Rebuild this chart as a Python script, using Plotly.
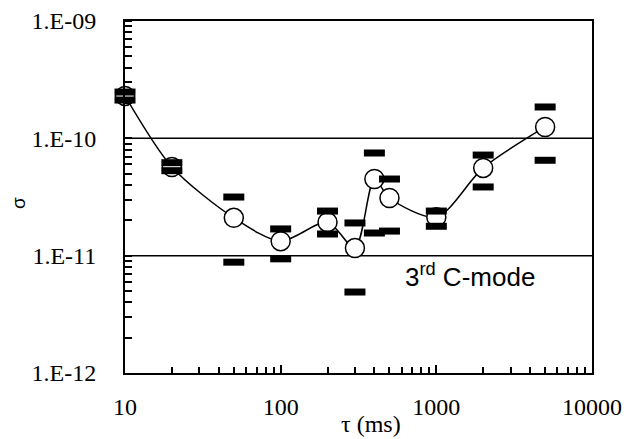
import plotly.graph_objects as go

tau = [10, 20, 50, 100, 200, 300, 400, 500, 1000, 2000, 5000]
sigma = [2.3e-10, 5.7e-11, 2.1e-11, 1.33e-11, 1.93e-11, 1.16e-11, 4.5e-11, 3.1e-11, 2.13e-11, 5.6e-11, 1.25e-10]
upper = [2.48e-10, 6.2e-11, 3.16e-11, 1.69e-11, 2.4e-11, 1.9e-11, 7.5e-11, 4.5e-11, 2.4e-11, 7.2e-11, 1.85e-10]
lower = [2.12e-10, 5.3e-11, 8.8e-12, 9.4e-12, 1.53e-11, 4.9e-12, 1.56e-11, 1.62e-11, 1.78e-11, 3.85e-11, 6.5e-11]
ref_lines = [1e-10, 1e-11]
y_ticks = [1e-12, 1e-11, 1e-10, 1e-9]
y_ticktext = ["1.E-12", "1.E-11", "1.E-10", "1.E-09"]
x_ticks = [10, 100, 1000, 10000]
x_ticktext = ["10", "100", "1000", "10000"]

minor_x = [m * 10**e for e in (1, 2, 3) for m in range(2, 10)]
minor_y = [m * 10.0**e for e in (-12, -11, -10) for m in range(2, 11)]

serif = "Liberation Serif, Times New Roman"
sans = "Liberation Sans, Arial"

L, R, T, B, W, H = 125, 32, 21, 66, 624, 439
pw, ph = W - L - R, H - T - B

fig = go.Figure()
for yv in ref_lines:
    fig.add_shape(type="line", xref="paper", x0=0, x1=1, yref="y", y0=yv, y1=yv,
                  line=dict(color="black", width=1.5), layer="below")

fig.add_trace(go.Scatter(x=tau, y=sigma, mode="lines+markers", cliponaxis=False,
                         line=dict(color="black", width=1.5, shape="spline", smoothing=0.8),
                         marker=dict(symbol="circle", size=19, color="white",
                                     line=dict(color="black", width=1.5)),
                         showlegend=False))
for arr in (upper, lower):
    fig.add_trace(go.Scatter(x=tau, y=arr, mode="markers", cliponaxis=False,
                             marker=dict(symbol="line-ew", size=15,
                                         line=dict(color="black", width=7)),
                             showlegend=False))

fig.add_annotation(x=3.216, y=-11.17, xref="x", yref="y", text="3<sup>rd</sup> C-mode",
                   showarrow=False, font=dict(family=sans, size=26, color="black"))
fig.add_annotation(xref="paper", yref="paper", x=(371 - L) / pw, y=-(424 - (H - B)) / ph,
                   yanchor="middle", text="τ (ms)", showarrow=False,
                   font=dict(family=serif, size=24, color="black"))
fig.add_annotation(xref="paper", yref="paper", x=-(L - 18) / pw, y=1 - (203 - T) / ph,
                   xanchor="center", yanchor="middle", textangle=-90, text="σ", showarrow=False,
                   font=dict(family=sans, size=19, color="black"))

fig.update_layout(
    width=W, height=H,
    margin=dict(l=L, r=R, t=T, b=B),
    plot_bgcolor="white", paper_bgcolor="white",
    xaxis=dict(type="log", range=[1, 4], showgrid=False, zeroline=False, automargin=False,
               showline=True, linecolor="black", linewidth=2, mirror=True,
               tickvals=x_ticks, ticktext=x_ticktext, ticks="inside", ticklen=8,
               tickwidth=1.5, tickcolor="black", ticklabelstandoff=11,
               tickfont=dict(family=serif, size=24, color="black"),
               minor=dict(tickvals=minor_x, ticks="inside", ticklen=6, tickwidth=1.5,
                          tickcolor="black", showgrid=False)),
    yaxis=dict(type="log", range=[-12, -9], showgrid=False, zeroline=False, automargin=False,
               showline=True, linecolor="black", linewidth=2, mirror=True,
               tickvals=y_ticks, ticktext=y_ticktext, ticks="outside", ticklen=22,
               tickwidth=1, tickcolor="rgba(0,0,0,0)",
               tickfont=dict(family=serif, size=24, color="black"),
               minor=dict(tickvals=minor_y, ticks="inside", ticklen=7, tickwidth=1.5,
                          tickcolor="black", showgrid=False)),
)

fig.write_html("out.html")
